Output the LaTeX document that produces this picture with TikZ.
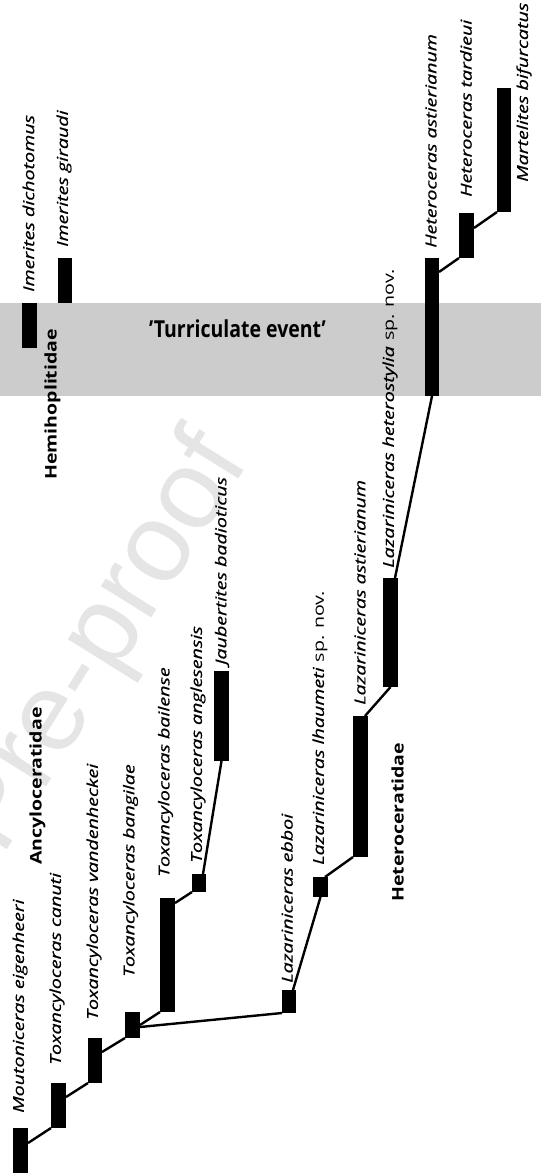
\documentclass[tikz,border=0pt]{standalone}
\usepackage{fontspec}
\usepackage{graphicx}
\setmainfont{Open Sans}[ItalicFeatures={FakeBold=0.6}]
\newfontfamily\wmfont{Liberation Sans}
\usetikzlibrary{calc}
\newcommand\taxbar[5]{\node[barbox, minimum width={(#4-#2)*1pt}, minimum height={(#5-#3)*1pt}] (#1) at ({(#2+#4)/2},{(#3+#5)/2}) {};}
\newcommand\tx[1]{\scalebox{1.31}[1]{#1}}
\newcommand\fx[1]{\scalebox{1.22}[1]{#1}}
\begin{document}
\begin{tikzpicture}[x=1pt,y=-1pt,
  barbox/.style={fill=black, draw=none, inner sep=0pt, outer sep=0pt},
  link/.style={line width=2.4pt},
  taxon/.style={rotate=90, anchor=west, inner sep=0pt, font=\fontsize{15}{17}\selectfont\itshape},
  family/.style={rotate=90, anchor=west, inner sep=0pt, font=\fontsize{16}{18}\selectfont\bfseries},
  band/.style={fill={rgb,255:red,204;green,204;blue,204}, draw=none},
]
\useasboundingbox (0,0) rectangle (541,1173);
\clip (0,0) rectangle (541,1173);
% watermark
\node[rotate=58, anchor=base east, text=black!10, font=\wmfont\fontsize{112}{112}\selectfont] (wm) at (252,458) {Journal Pre-proof};
% turriculate band
\fill[band] (0,303) rectangle (541,396);
\node[font=\fontsize{19.5}{21}\selectfont\bfseries, inner sep=0pt] (turr) at (237.5,329) {\scalebox{1}[1.2]{'Turriculate event'}};
% bars
\taxbar{mout}{13}{1128}{28}{1178}
\taxbar{canuti}{51}{1083}{66}{1128}
\taxbar{vand}{88}{1038}{102}{1083}
\taxbar{bang}{125}{1012}{140}{1038}
\taxbar{bail}{160}{898}{175}{1012}
\taxbar{angl}{192}{874}{206}{892}
\taxbar{jaub}{214}{671}{229}{761}
\taxbar{ebboi}{282}{990}{296}{1013}
\taxbar{lhau}{313}{877}{328}{897}
\taxbar{last}{353}{716}{368}{857}
\taxbar{lhet}{383}{578}{398}{687}
\taxbar{hast}{425}{258}{439}{396}
\taxbar{htar}{459}{213}{474}{258}
\taxbar{mbif}{497}{88}{511}{212}
\taxbar{idic}{22}{303}{37}{348}
\taxbar{igir}{58}{258}{72}{303}
% connectors
\draw[link] ($(mout.north east)+(0,15)$) -- (canuti.south west);
\draw[link] ($(canuti.north east)+(0,14)$) -- (vand.south west);
\draw[link] ($(vand.north east)+(0,14)$) -- (bang.south west);
\draw[link] ($(bang.north east)+(0,13)$) -- (bail.south west);
\draw[link] ($(bang.north east)+(0,15)$) -- (ebboi.south west);
\draw[link] ($(bail.north east)+(0,5)$) -- (angl.south west);
\draw[link] ($(angl.north east)+(-3,0)$) -- (jaub.south);
\draw[link] ($(ebboi.north east)+(-3,0)$) -- (lhau.south);
\draw[link] ($(lhau.north east)+(-3,0)$) -- (last.south west);
\draw[link] ($(last.north east)+(-3,0)$) -- (lhet.south);
\draw[link] ($(lhet.north east)+(-3,0)$) -- (hast.south);
\draw[link] ($(hast.north east)+(0,14)$) -- (htar.south west);
\draw[link] ($(htar.north east)+(0,15)$) -- (mbif.south west);
% taxon labels
\node[taxon] (tmout) at (20,1113) {\tx{Moutoniceras eigenheeri}};
\node[taxon] (tcanuti) at (57,1065) {\tx{Toxancyloceras canuti}};
\node[taxon] (tvand) at (94,1020) {\tx{Toxancyloceras vandenheckei}};
\node[taxon] (tbang) at (130.5,977) {\tx{Toxancyloceras bangilae}};
\node[taxon] (tbail) at (165.5,877) {\tx{Toxancyloceras bailense}};
\node[taxon] (tangl) at (198,863) {\tx{Toxancyloceras anglesensis}};
\node[taxon] (tjaub) at (222,665) {\tx{Jaubertites badioticus}};
\node[taxon] (tebboi) at (287,983) {\tx{Lazariniceras ebboi}};
\node[taxon] (tlhau) at (320,865) {\tx{Lazariniceras lhaumeti \upshape sp. nov.}};
\node[taxon] (tlast) at (360,705) {\tx{Lazariniceras astierianum}};
\node[taxon] (tlhet) at (390,568) {\tx{Lazariniceras heterostylia \upshape sp. nov.}};
\node[taxon] (thast) at (431,248) {\tx{Heteroceras astierianum}};
\node[taxon] (thtar) at (466,197) {\tx{Heteroceras tardieui}};
\node[taxon] (tmbif) at (524,182) {\tx{Martelites bifurcatus}};
\node[taxon] (tidic) at (28.5,292) {\tx{Imerites dichotomus}};
\node[taxon] (tigir) at (64,247) {\tx{Imerites giraudi}};
% family labels
\node[family] (fanc) at (37.5,865) {\fx{Ancyloceratidae}};
\node[family] (fhem) at (52.5,480) {\fx{Hemihoplitidae}};
\node[family] (fhet) at (397.5,902) {\fx{Heteroceratidae}};
\end{tikzpicture}
\end{document}
